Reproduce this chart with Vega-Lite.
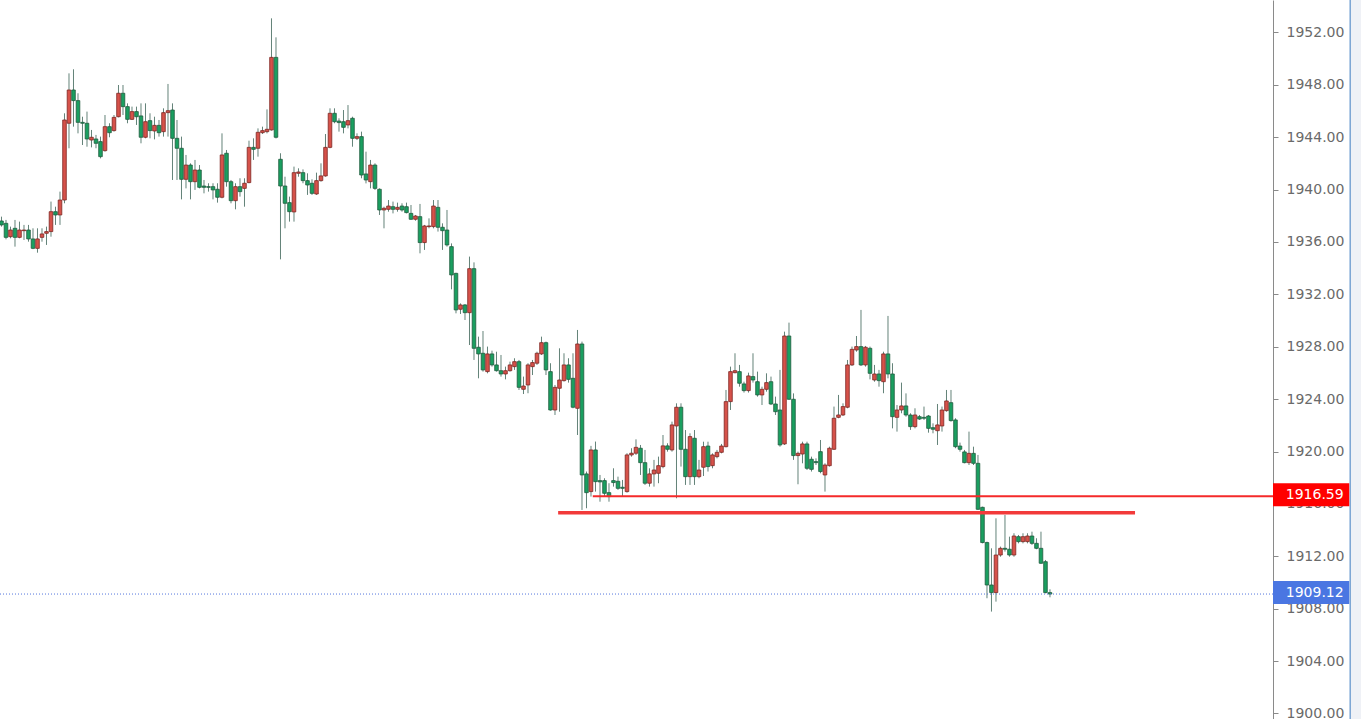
{
  "$schema": "https://vega.github.io/schema/vega-lite/v6.json",
  "width": 1273,
  "height": 719,
  "autosize": {"type": "none"},
  "padding": {"left": 0, "top": 0, "right": 88, "bottom": 0},
  "background": "#ffffff",
  "config": {
    "view": {"stroke": null},
    "axisY": {
      "grid": false,
      "labelFont": "DejaVu Sans",
      "labelFontSize": 14,
      "labelColor": "#6a6a6a",
      "labelPadding": 8,
      "domainColor": "#8a8a8a",
      "tickColor": "#8a8a8a",
      "tickSize": 5
    }
  },
  "datasets": {
    "candles": [
      {"i":0,"o":1937.60,"h":1937.93,"l":1937.17,"c":1937.30},
      {"i":1,"o":1937.42,"h":1937.68,"l":1936.20,"c":1936.35},
      {"i":2,"o":1936.40,"h":1937.17,"l":1936.28,"c":1936.91},
      {"i":3,"o":1937.04,"h":1937.68,"l":1935.64,"c":1936.35},
      {"i":4,"o":1936.35,"h":1937.55,"l":1936.28,"c":1936.91},
      {"i":5,"o":1936.86,"h":1937.30,"l":1936.15,"c":1936.91},
      {"i":6,"o":1936.91,"h":1937.30,"l":1936.02,"c":1936.23},
      {"i":7,"o":1936.23,"h":1937.04,"l":1935.45,"c":1935.51},
      {"i":8,"o":1935.51,"h":1937.04,"l":1935.18,"c":1936.23},
      {"i":9,"o":1936.35,"h":1937.04,"l":1936.02,"c":1936.61},
      {"i":10,"o":1936.66,"h":1937.17,"l":1935.77,"c":1936.79},
      {"i":11,"o":1936.79,"h":1939.08,"l":1936.40,"c":1938.31},
      {"i":12,"o":1938.31,"h":1938.69,"l":1937.30,"c":1938.06},
      {"i":13,"o":1938.06,"h":1939.84,"l":1937.30,"c":1939.20},
      {"i":14,"o":1939.20,"h":1945.82,"l":1938.95,"c":1945.31},
      {"i":15,"o":1945.06,"h":1948.87,"l":1943.15,"c":1947.60},
      {"i":16,"o":1947.60,"h":1949.18,"l":1944.80,"c":1946.79},
      {"i":17,"o":1946.79,"h":1947.35,"l":1944.29,"c":1945.13},
      {"i":18,"o":1945.13,"h":1945.56,"l":1943.40,"c":1945.06},
      {"i":19,"o":1945.06,"h":1945.95,"l":1943.27,"c":1943.86},
      {"i":20,"o":1943.78,"h":1944.55,"l":1943.22,"c":1943.99},
      {"i":21,"o":1943.86,"h":1944.17,"l":1943.15,"c":1943.53},
      {"i":22,"o":1943.66,"h":1944.04,"l":1942.38,"c":1942.51},
      {"i":23,"o":1942.97,"h":1945.69,"l":1942.89,"c":1944.80},
      {"i":24,"o":1944.80,"h":1945.06,"l":1943.99,"c":1944.34},
      {"i":25,"o":1944.50,"h":1945.69,"l":1944.42,"c":1945.51},
      {"i":26,"o":1945.56,"h":1947.98,"l":1945.51,"c":1947.35},
      {"i":27,"o":1947.35,"h":1947.98,"l":1945.69,"c":1946.33},
      {"i":28,"o":1946.33,"h":1946.58,"l":1945.06,"c":1945.36},
      {"i":29,"o":1945.36,"h":1946.33,"l":1945.31,"c":1945.95},
      {"i":30,"o":1945.95,"h":1946.33,"l":1944.93,"c":1945.56},
      {"i":31,"o":1945.62,"h":1946.58,"l":1943.53,"c":1943.99},
      {"i":32,"o":1943.99,"h":1946.58,"l":1943.91,"c":1945.18},
      {"i":33,"o":1945.26,"h":1945.82,"l":1943.91,"c":1944.50},
      {"i":34,"o":1944.47,"h":1945.56,"l":1943.83,"c":1944.90},
      {"i":35,"o":1944.90,"h":1945.31,"l":1944.04,"c":1944.34},
      {"i":36,"o":1944.42,"h":1946.20,"l":1944.04,"c":1945.87},
      {"i":37,"o":1945.87,"h":1948.06,"l":1944.04,"c":1946.02},
      {"i":38,"o":1946.07,"h":1946.58,"l":1940.73,"c":1943.91},
      {"i":39,"o":1943.91,"h":1945.31,"l":1940.73,"c":1943.15},
      {"i":40,"o":1943.15,"h":1944.04,"l":1939.25,"c":1940.78},
      {"i":41,"o":1940.78,"h":1942.64,"l":1940.09,"c":1941.87},
      {"i":42,"o":1941.87,"h":1942.00,"l":1939.25,"c":1940.60},
      {"i":43,"o":1940.60,"h":1942.26,"l":1939.97,"c":1941.49},
      {"i":44,"o":1941.49,"h":1941.87,"l":1940.09,"c":1940.17},
      {"i":45,"o":1940.27,"h":1940.73,"l":1939.71,"c":1940.17},
      {"i":46,"o":1940.22,"h":1940.48,"l":1939.84,"c":1940.17},
      {"i":47,"o":1940.22,"h":1940.48,"l":1939.25,"c":1939.97},
      {"i":48,"o":1940.02,"h":1940.48,"l":1939.00,"c":1939.41},
      {"i":49,"o":1939.41,"h":1944.29,"l":1939.33,"c":1942.64},
      {"i":50,"o":1942.77,"h":1943.02,"l":1940.22,"c":1940.60},
      {"i":51,"o":1940.60,"h":1940.73,"l":1938.95,"c":1939.15},
      {"i":52,"o":1939.15,"h":1940.48,"l":1938.49,"c":1940.22},
      {"i":53,"o":1940.22,"h":1940.86,"l":1939.46,"c":1939.84},
      {"i":54,"o":1940.09,"h":1940.86,"l":1938.69,"c":1940.48},
      {"i":55,"o":1940.53,"h":1943.73,"l":1940.48,"c":1943.22},
      {"i":56,"o":1943.22,"h":1943.91,"l":1942.26,"c":1943.07},
      {"i":57,"o":1943.15,"h":1944.67,"l":1942.51,"c":1944.37},
      {"i":58,"o":1944.34,"h":1944.80,"l":1944.24,"c":1944.50},
      {"i":59,"o":1944.42,"h":1946.12,"l":1944.29,"c":1944.60},
      {"i":60,"o":1944.55,"h":1953.07,"l":1944.50,"c":1950.09},
      {"i":61,"o":1950.09,"h":1951.62,"l":1943.90,"c":1943.99},
      {"i":62,"o":1942.31,"h":1942.77,"l":1934.67,"c":1940.27},
      {"i":63,"o":1940.27,"h":1940.98,"l":1937.04,"c":1938.95},
      {"i":64,"o":1939.00,"h":1939.46,"l":1937.55,"c":1938.31},
      {"i":65,"o":1938.29,"h":1941.75,"l":1937.55,"c":1941.29},
      {"i":66,"o":1941.24,"h":1941.62,"l":1940.98,"c":1941.34},
      {"i":67,"o":1941.29,"h":1941.54,"l":1940.48,"c":1940.68},
      {"i":68,"o":1940.68,"h":1941.24,"l":1939.59,"c":1940.35},
      {"i":69,"o":1940.48,"h":1940.78,"l":1939.59,"c":1939.71},
      {"i":70,"o":1939.66,"h":1941.29,"l":1939.59,"c":1940.68},
      {"i":71,"o":1940.68,"h":1942.00,"l":1940.60,"c":1941.04},
      {"i":72,"o":1941.04,"h":1944.24,"l":1940.98,"c":1943.22},
      {"i":73,"o":1943.22,"h":1946.20,"l":1943.15,"c":1945.82},
      {"i":74,"o":1945.82,"h":1946.20,"l":1945.06,"c":1945.18},
      {"i":75,"o":1945.23,"h":1945.44,"l":1944.42,"c":1945.11},
      {"i":76,"o":1945.18,"h":1946.07,"l":1944.29,"c":1944.75},
      {"i":77,"o":1944.93,"h":1946.45,"l":1944.67,"c":1945.26},
      {"i":78,"o":1945.44,"h":1945.56,"l":1943.27,"c":1943.91},
      {"i":79,"o":1943.91,"h":1944.29,"l":1943.78,"c":1944.04},
      {"i":80,"o":1944.04,"h":1944.42,"l":1940.86,"c":1941.11},
      {"i":81,"o":1941.19,"h":1942.89,"l":1940.47,"c":1940.73},
      {"i":82,"o":1940.60,"h":1942.26,"l":1940.09,"c":1941.87},
      {"i":83,"o":1941.87,"h":1942.00,"l":1939.97,"c":1940.09},
      {"i":84,"o":1940.02,"h":1940.09,"l":1938.06,"c":1938.44},
      {"i":85,"o":1938.44,"h":1938.69,"l":1937.04,"c":1938.57},
      {"i":86,"o":1938.49,"h":1939.20,"l":1938.31,"c":1938.74},
      {"i":87,"o":1938.69,"h":1939.08,"l":1938.18,"c":1938.49},
      {"i":88,"o":1938.49,"h":1939.00,"l":1938.31,"c":1938.64},
      {"i":89,"o":1938.74,"h":1938.95,"l":1938.31,"c":1938.44},
      {"i":90,"o":1938.69,"h":1939.00,"l":1938.18,"c":1938.24},
      {"i":91,"o":1938.18,"h":1938.82,"l":1937.68,"c":1937.73},
      {"i":92,"o":1937.73,"h":1938.06,"l":1937.62,"c":1937.98},
      {"i":93,"o":1937.93,"h":1938.90,"l":1935.13,"c":1935.95},
      {"i":94,"o":1935.95,"h":1937.30,"l":1935.39,"c":1937.22},
      {"i":95,"o":1937.17,"h":1937.80,"l":1937.04,"c":1937.22},
      {"i":96,"o":1937.17,"h":1939.20,"l":1937.04,"c":1938.74},
      {"i":97,"o":1938.64,"h":1939.20,"l":1936.79,"c":1937.12},
      {"i":98,"o":1937.12,"h":1937.42,"l":1935.39,"c":1936.86},
      {"i":99,"o":1936.91,"h":1938.44,"l":1935.64,"c":1935.77},
      {"i":100,"o":1935.64,"h":1935.89,"l":1932.38,"c":1933.48},
      {"i":101,"o":1933.60,"h":1933.65,"l":1930.55,"c":1930.81},
      {"i":102,"o":1930.86,"h":1931.31,"l":1930.50,"c":1931.19},
      {"i":103,"o":1931.19,"h":1931.26,"l":1930.04,"c":1930.60},
      {"i":104,"o":1930.60,"h":1934.88,"l":1928.13,"c":1933.96},
      {"i":105,"o":1933.96,"h":1934.44,"l":1926.99,"c":1927.88},
      {"i":106,"o":1927.96,"h":1928.77,"l":1925.59,"c":1927.45},
      {"i":107,"o":1927.50,"h":1929.20,"l":1926.10,"c":1926.23},
      {"i":108,"o":1926.10,"h":1928.01,"l":1925.97,"c":1927.45},
      {"i":109,"o":1927.45,"h":1927.70,"l":1926.48,"c":1926.61},
      {"i":110,"o":1926.61,"h":1927.62,"l":1926.10,"c":1926.17},
      {"i":111,"o":1926.17,"h":1927.37,"l":1925.72,"c":1925.92},
      {"i":112,"o":1925.92,"h":1926.48,"l":1925.51,"c":1926.17},
      {"i":113,"o":1926.17,"h":1926.86,"l":1926.10,"c":1926.61},
      {"i":114,"o":1926.48,"h":1927.12,"l":1926.23,"c":1926.86},
      {"i":115,"o":1926.86,"h":1926.99,"l":1924.70,"c":1924.90},
      {"i":116,"o":1924.75,"h":1925.72,"l":1924.39,"c":1925.00},
      {"i":117,"o":1925.08,"h":1926.74,"l":1924.45,"c":1926.61},
      {"i":118,"o":1926.48,"h":1926.99,"l":1925.84,"c":1926.79},
      {"i":119,"o":1926.74,"h":1927.62,"l":1926.61,"c":1927.50},
      {"i":120,"o":1927.45,"h":1928.77,"l":1927.37,"c":1928.31},
      {"i":121,"o":1928.31,"h":1928.39,"l":1925.84,"c":1926.23},
      {"i":122,"o":1926.10,"h":1926.74,"l":1923.12,"c":1923.17},
      {"i":123,"o":1923.17,"h":1925.08,"l":1922.79,"c":1924.90},
      {"i":124,"o":1924.83,"h":1927.88,"l":1923.04,"c":1925.46},
      {"i":125,"o":1925.41,"h":1927.50,"l":1925.34,"c":1926.61},
      {"i":126,"o":1926.61,"h":1927.12,"l":1925.26,"c":1925.51},
      {"i":127,"o":1925.59,"h":1927.50,"l":1923.30,"c":1923.38},
      {"i":128,"o":1923.30,"h":1929.28,"l":1921.26,"c":1928.21},
      {"i":129,"o":1928.21,"h":1928.39,"l":1915.54,"c":1918.21},
      {"i":130,"o":1918.29,"h":1918.47,"l":1915.67,"c":1916.86},
      {"i":131,"o":1916.94,"h":1920.43,"l":1916.56,"c":1920.12},
      {"i":132,"o":1920.12,"h":1920.76,"l":1916.94,"c":1917.70},
      {"i":133,"o":1917.78,"h":1918.21,"l":1916.17,"c":1917.68},
      {"i":134,"o":1917.78,"h":1917.96,"l":1916.56,"c":1916.81},
      {"i":135,"o":1916.86,"h":1917.58,"l":1916.17,"c":1916.56},
      {"i":136,"o":1917.78,"h":1918.72,"l":1917.32,"c":1917.63},
      {"i":137,"o":1917.73,"h":1918.08,"l":1917.07,"c":1917.19},
      {"i":138,"o":1917.27,"h":1917.83,"l":1916.56,"c":1917.19},
      {"i":139,"o":1916.94,"h":1919.87,"l":1916.86,"c":1919.74},
      {"i":140,"o":1919.74,"h":1920.25,"l":1919.61,"c":1919.87},
      {"i":141,"o":1919.87,"h":1920.93,"l":1919.74,"c":1920.32},
      {"i":142,"o":1920.25,"h":1920.50,"l":1918.21,"c":1919.15},
      {"i":143,"o":1919.15,"h":1920.12,"l":1917.45,"c":1917.58},
      {"i":144,"o":1917.58,"h":1918.72,"l":1917.32,"c":1918.29},
      {"i":145,"o":1918.29,"h":1919.36,"l":1917.32,"c":1918.59},
      {"i":146,"o":1918.34,"h":1919.61,"l":1917.58,"c":1918.92},
      {"i":147,"o":1918.85,"h":1921.26,"l":1918.72,"c":1920.43},
      {"i":148,"o":1920.43,"h":1920.63,"l":1919.99,"c":1920.17},
      {"i":149,"o":1920.12,"h":1922.28,"l":1919.99,"c":1922.03},
      {"i":150,"o":1921.95,"h":1923.68,"l":1916.43,"c":1923.38},
      {"i":151,"o":1923.38,"h":1923.68,"l":1918.85,"c":1920.17},
      {"i":152,"o":1920.17,"h":1921.64,"l":1917.45,"c":1918.08},
      {"i":153,"o":1918.08,"h":1921.39,"l":1917.45,"c":1921.14},
      {"i":154,"o":1921.01,"h":1921.64,"l":1917.45,"c":1918.08},
      {"i":155,"o":1918.08,"h":1919.36,"l":1917.96,"c":1918.59},
      {"i":156,"o":1918.80,"h":1920.75,"l":1918.13,"c":1920.37},
      {"i":157,"o":1920.42,"h":1920.75,"l":1918.47,"c":1918.85},
      {"i":158,"o":1918.92,"h":1919.86,"l":1918.72,"c":1919.74},
      {"i":159,"o":1919.61,"h":1920.12,"l":1919.48,"c":1919.94},
      {"i":160,"o":1919.94,"h":1920.58,"l":1919.86,"c":1920.42},
      {"i":161,"o":1920.37,"h":1924.70,"l":1920.32,"c":1923.81},
      {"i":162,"o":1923.81,"h":1926.48,"l":1923.17,"c":1926.10},
      {"i":163,"o":1926.02,"h":1927.50,"l":1925.97,"c":1926.17},
      {"i":164,"o":1926.10,"h":1926.61,"l":1924.95,"c":1925.21},
      {"i":165,"o":1925.16,"h":1925.33,"l":1924.50,"c":1924.65},
      {"i":166,"o":1924.65,"h":1926.02,"l":1924.50,"c":1925.77},
      {"i":167,"o":1925.72,"h":1927.50,"l":1925.26,"c":1925.46},
      {"i":168,"o":1925.33,"h":1926.10,"l":1924.19,"c":1924.32},
      {"i":169,"o":1924.32,"h":1924.95,"l":1923.55,"c":1924.75},
      {"i":170,"o":1924.75,"h":1925.97,"l":1924.57,"c":1925.26},
      {"i":171,"o":1925.33,"h":1925.72,"l":1923.55,"c":1923.63},
      {"i":172,"o":1923.63,"h":1924.19,"l":1922.79,"c":1923.04},
      {"i":173,"o":1923.17,"h":1926.23,"l":1920.37,"c":1920.50},
      {"i":174,"o":1920.58,"h":1929.15,"l":1920.50,"c":1928.82},
      {"i":175,"o":1928.82,"h":1929.84,"l":1923.94,"c":1923.99},
      {"i":176,"o":1923.99,"h":1924.44,"l":1919.36,"c":1919.69},
      {"i":177,"o":1919.69,"h":1919.99,"l":1917.50,"c":1919.86},
      {"i":178,"o":1919.81,"h":1920.75,"l":1919.10,"c":1920.58},
      {"i":179,"o":1920.58,"h":1920.75,"l":1918.59,"c":1918.72},
      {"i":180,"o":1919.41,"h":1919.61,"l":1918.47,"c":1918.64},
      {"i":181,"o":1919.23,"h":1919.48,"l":1918.97,"c":1919.15},
      {"i":182,"o":1919.99,"h":1920.88,"l":1918.34,"c":1918.47},
      {"i":183,"o":1918.21,"h":1919.10,"l":1916.94,"c":1918.97},
      {"i":184,"o":1918.92,"h":1920.37,"l":1918.85,"c":1920.25},
      {"i":185,"o":1920.17,"h":1923.43,"l":1920.12,"c":1922.54},
      {"i":186,"o":1922.61,"h":1924.32,"l":1922.54,"c":1922.79},
      {"i":187,"o":1922.79,"h":1923.68,"l":1922.71,"c":1923.43},
      {"i":188,"o":1923.38,"h":1926.99,"l":1923.30,"c":1926.61},
      {"i":189,"o":1926.61,"h":1928.01,"l":1926.53,"c":1927.80},
      {"i":190,"o":1927.75,"h":1928.82,"l":1927.62,"c":1928.01},
      {"i":191,"o":1928.01,"h":1930.81,"l":1926.53,"c":1926.61},
      {"i":192,"o":1926.61,"h":1928.06,"l":1926.48,"c":1927.96},
      {"i":193,"o":1927.88,"h":1928.01,"l":1925.51,"c":1925.97},
      {"i":194,"o":1925.46,"h":1926.61,"l":1925.33,"c":1925.92},
      {"i":195,"o":1925.92,"h":1926.23,"l":1924.95,"c":1925.41},
      {"i":196,"o":1925.33,"h":1927.62,"l":1924.45,"c":1927.45},
      {"i":197,"o":1927.45,"h":1930.35,"l":1925.59,"c":1925.92},
      {"i":198,"o":1925.92,"h":1926.74,"l":1921.77,"c":1922.66},
      {"i":199,"o":1922.61,"h":1923.55,"l":1921.52,"c":1923.17},
      {"i":200,"o":1923.17,"h":1925.26,"l":1922.92,"c":1923.48},
      {"i":201,"o":1923.48,"h":1924.44,"l":1922.66,"c":1922.79},
      {"i":202,"o":1922.79,"h":1922.92,"l":1921.65,"c":1921.90},
      {"i":203,"o":1921.90,"h":1923.30,"l":1921.77,"c":1922.79},
      {"i":204,"o":1922.66,"h":1922.79,"l":1922.41,"c":1922.48},
      {"i":205,"o":1922.61,"h":1923.43,"l":1922.41,"c":1922.54},
      {"i":206,"o":1922.71,"h":1922.79,"l":1921.44,"c":1921.77},
      {"i":207,"o":1921.82,"h":1922.15,"l":1921.39,"c":1921.70},
      {"i":208,"o":1921.59,"h":1923.63,"l":1920.50,"c":1922.03},
      {"i":209,"o":1921.95,"h":1923.43,"l":1921.52,"c":1923.17},
      {"i":210,"o":1923.12,"h":1924.70,"l":1923.04,"c":1923.86},
      {"i":211,"o":1923.73,"h":1924.70,"l":1922.28,"c":1922.36},
      {"i":212,"o":1922.41,"h":1922.54,"l":1920.25,"c":1920.37},
      {"i":213,"o":1920.42,"h":1920.68,"l":1919.99,"c":1920.17},
      {"i":214,"o":1919.97,"h":1920.12,"l":1919.10,"c":1919.15},
      {"i":215,"o":1919.15,"h":1921.52,"l":1918.97,"c":1919.86},
      {"i":216,"o":1919.86,"h":1920.37,"l":1918.97,"c":1919.10},
      {"i":217,"o":1919.10,"h":1919.74,"l":1915.54,"c":1915.59},
      {"i":218,"o":1915.74,"h":1915.79,"l":1912.99,"c":1913.05},
      {"i":219,"o":1913.05,"h":1913.12,"l":1908.80,"c":1909.81},
      {"i":220,"o":1909.81,"h":1912.61,"l":1907.78,"c":1909.23},
      {"i":221,"o":1909.23,"h":1914.90,"l":1908.54,"c":1912.10},
      {"i":222,"o":1912.10,"h":1912.74,"l":1911.97,"c":1912.61},
      {"i":223,"o":1912.61,"h":1915.16,"l":1912.36,"c":1912.54},
      {"i":224,"o":1912.54,"h":1913.50,"l":1911.97,"c":1912.10},
      {"i":225,"o":1912.10,"h":1913.76,"l":1911.97,"c":1913.55},
      {"i":226,"o":1913.50,"h":1913.63,"l":1912.99,"c":1913.12},
      {"i":227,"o":1913.12,"h":1913.76,"l":1912.99,"c":1913.50},
      {"i":228,"o":1913.12,"h":1913.76,"l":1912.99,"c":1913.55},
      {"i":229,"o":1913.55,"h":1913.88,"l":1912.87,"c":1912.99},
      {"i":230,"o":1912.99,"h":1913.38,"l":1912.54,"c":1912.61},
      {"i":231,"o":1912.61,"h":1913.88,"l":1911.42,"c":1911.47},
      {"i":232,"o":1911.59,"h":1911.72,"l":1909.18,"c":1909.23},
      {"i":233,"o":1909.23,"h":1909.48,"l":1908.87,"c":1909.12}
    ],
    "tags": [
      {"price": 1916.59, "label": "1916.59", "kind": "alert"},
      {"price": 1909.12, "label": "1909.12", "kind": "last"}
    ]
  },
  "layer": [
    {
      "data": {"values": [{"a": 1}]},
      "mark": {"type": "rect", "fill": "#eff1f6", "clip": false},
      "encoding": {
        "x": {"datum": 299.7, "type": "quantitative", "scale": {"domain": [-0.333, 282.56], "nice": false, "zero": false, "padding": 0}, "axis": null},
        "x2": {"datum": 305},
        "y": {
          "datum": 1899.58, "type": "quantitative", "title": null,
          "scale": {"domain": [1899.58, 1954.47], "nice": false, "zero": false, "padding": 0},
          "axis": {
            "orient": "right",
            "values": [1900, 1904, 1908, 1912, 1916, 1920, 1924, 1928, 1932, 1936, 1940, 1944, 1948, 1952],
            "format": ".2f",
            "grid": false,
            "labelFont": "DejaVu Sans",
            "labelFontSize": 14,
            "labelColor": "#6a6a6a",
            "labelPadding": 8,
            "labelOverlap": false,
            "domainColor": "#8a8a8a",
            "tickColor": "#8a8a8a",
            "tickSize": 5,
            "title": null
          }
        },
        "y2": {"datum": 1954.47}
      }
    },
    {
      "data": {"values": [{"a": 1}]},
      "mark": {"type": "rule", "color": "#3b7cc0", "strokeWidth": 1, "clip": false},
      "encoding": {
        "x": {"datum": 299.7, "type": "quantitative", "axis": null},
        "y": {"datum": 1899.58, "type": "quantitative", "title": null},
        "y2": {"datum": 1954.47}
      }
    },
    {
      "data": {"name": "candles"},
      "mark": {"type": "rule", "color": "#52766a", "strokeWidth": 1, "opacity": 0.9},
      "encoding": {
        "x": {"field": "i", "type": "quantitative", "axis": null},
        "y": {"field": "l", "type": "quantitative", "title": null},
        "y2": {"field": "h"}
      }
    },
    {
      "data": {"name": "candles"},
      "mark": {"type": "bar", "size": 3.6, "strokeWidth": 0.8, "orient": "vertical"},
      "encoding": {
        "x": {"field": "i", "type": "quantitative", "axis": null},
        "y": {"field": "o", "type": "quantitative", "title": null},
        "y2": {"field": "c"},
        "fill": {"condition": {"test": "datum.c >= datum.o", "value": "#d6524a"}, "value": "#1a9f60"},
        "stroke": {"condition": {"test": "datum.c >= datum.o", "value": "#7d2622"}, "value": "#1f5b3e"}
      }
    },
    {
      "data": {"values": [{"a": 1}]},
      "mark": {"type": "rule", "color": "#5577dd", "strokeWidth": 1, "strokeDash": [1, 2]},
      "encoding": {
        "x": {"datum": -0.333, "type": "quantitative", "axis": null},
        "x2": {"datum": 282.56},
        "y": {"datum": 1909.12, "type": "quantitative", "title": null}
      }
    },
    {
      "data": {"values": [{"a": 1}]},
      "mark": {"type": "rule", "color": "#f52a2a", "strokeWidth": 2},
      "encoding": {
        "x": {"datum": 131.4, "type": "quantitative", "axis": null},
        "x2": {"datum": 282.56},
        "y": {"datum": 1916.59, "type": "quantitative", "title": null}
      }
    },
    {
      "data": {"values": [{"a": 1}]},
      "mark": {"type": "rule", "color": "#f23a3a", "strokeWidth": 3.5},
      "encoding": {
        "x": {"datum": 123.7, "type": "quantitative", "axis": null},
        "x2": {"datum": 251.9},
        "y": {"datum": 1915.33, "type": "quantitative", "title": null}
      }
    },
    {
      "data": {"name": "tags"},
      "mark": {"type": "bar", "orient": "horizontal", "size": 23, "clip": false, "yOffset": -1.5},
      "encoding": {
        "x": {"datum": 282.56, "type": "quantitative", "axis": null},
        "x2": {"datum": 299.5},
        "y": {"field": "price", "type": "quantitative", "title": null},
        "fill": {"field": "kind", "type": "nominal", "legend": null, "scale": {"domain": ["alert", "last"], "range": ["#ff0000", "#4a76e2"]}}
      }
    },
    {
      "data": {"name": "tags"},
      "mark": {"type": "text", "align": "left", "baseline": "middle", "color": "#ffffff", "font": "DejaVu Sans", "fontSize": 14, "clip": false, "dy": -1},
      "encoding": {
        "x": {"datum": 285.4, "type": "quantitative", "axis": null},
        "y": {"field": "price", "type": "quantitative", "title": null},
        "text": {"field": "label"}
      }
    }
  ]
}
